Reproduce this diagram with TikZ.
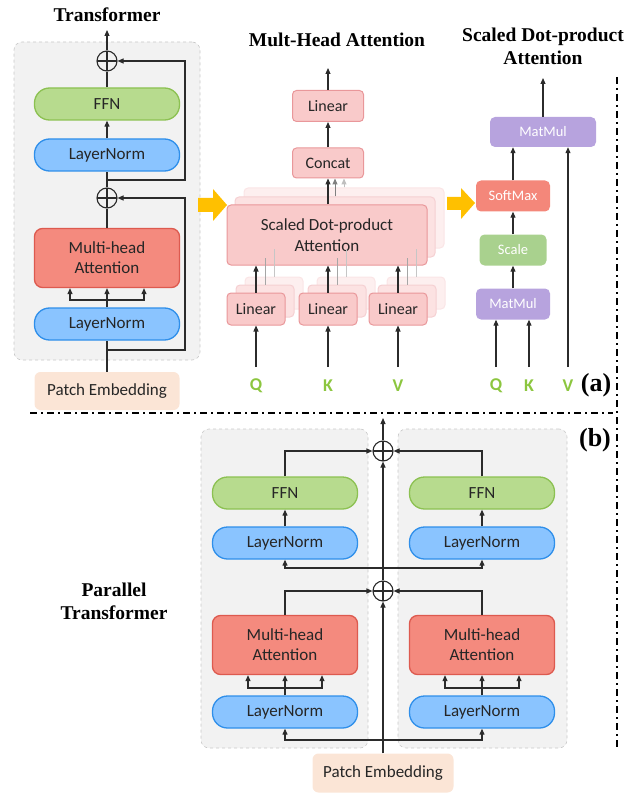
\documentclass[tikz,border=0pt]{standalone}
\usepackage{fontspec}
\setmainfont{Liberation Serif}
\newfontfamily\boxfont{Carlito}
\usetikzlibrary{arrows.meta,shapes.geometric,calc}
\definecolor{panelgray}{HTML}{F2F2F2}
\definecolor{panelborder}{HTML}{C8C8C8}
\definecolor{ffnfill}{HTML}{B7DB8E}
\definecolor{ffnborder}{HTML}{8CC152}
\definecolor{lnfill}{HTML}{8AC4FF}
\definecolor{lnborder}{HTML}{2F8FEA}
\definecolor{mhfill}{HTML}{F48A7E}
\definecolor{mhborder}{HTML}{DD5A4F}
\definecolor{patchc}{HTML}{FBE5D6}
\definecolor{pinkfill}{HTML}{F9CACA}
\definecolor{pinkborder}{HTML}{E9979A}
\definecolor{purp}{HTML}{B7A3DE}
\definecolor{smfill}{HTML}{F4877A}
\definecolor{scfill}{HTML}{A9D18E}
\definecolor{yel}{HTML}{FFC000}
\definecolor{qkvc}{HTML}{8CC63F}
\definecolor{linec}{HTML}{2B2B2B}
\definecolor{txt}{HTML}{262626}
\tikzset{
  boxtxt/.style={font=\boxfont\fontsize{17}{20}\selectfont, text=txt},
  pill/.style={boxtxt, rounded corners=15pt, minimum width=145pt, minimum height=32pt, line width=1.3pt, inner sep=0pt},
  ffn/.style={pill, fill=ffnfill, draw=ffnborder},
  lnorm/.style={pill, fill=lnfill, draw=lnborder},
  mhead/.style={pill, rounded corners=8pt, minimum height=59pt, fill=mhfill, draw=mhborder, align=center},
  patch/.style={boxtxt, fill=patchc, rounded corners=6pt, minimum width=145pt, minimum height=38pt, inner sep=0pt},
  panel/.style={fill=panelgray, draw=panelborder, dashed, line width=0.6pt, rounded corners=8pt, inner sep=0pt},
  pinkbox/.style={font=\boxfont\fontsize{16}{20}\selectfont, text=txt, fill=pinkfill, draw=pinkborder, line width=1pt, rounded corners=4pt, inner sep=0pt, align=center},
  bigpink/.style={pinkbox, font=\boxfont\fontsize{17}{21}\selectfont},
  shadowA/.style={fill=pinkfill!55, draw=pinkborder!45, line width=1pt, rounded corners=4pt, inner sep=0pt},
  shadowB/.style={fill=pinkfill!30, draw=pinkborder!25, line width=1pt, rounded corners=4pt, inner sep=0pt},
  sbox/.style={font=\boxfont\fontsize{14.5}{17}\selectfont, text=white, rounded corners=5pt, inner sep=0pt, minimum height=31pt},
  arr/.style={-{Triangle[length=6pt,width=5pt]}, draw=linec, line width=1.1pt},
  plainline/.style={draw=linec, line width=1.1pt},
  oplus/.style={circle, draw=linec, line width=1.1pt, minimum size=20pt, inner sep=0pt,
    path picture={\draw[linec, line width=1.1pt] (path picture bounding box.north) -- (path picture bounding box.south) (path picture bounding box.west) -- (path picture bounding box.east);}},
  ttl/.style={font=\fontsize{19.5}{23}\selectfont\bfseries, align=center},
  lbl/.style={font=\fontsize{26}{30}\selectfont\bfseries},
  qkv/.style={font=\boxfont\fontsize{18}{20}\selectfont\bfseries, text=qkvc},
  sep/.style={draw=black, line width=2pt, dash pattern=on 7pt off 4pt on 2pt off 4pt}
}
\begin{document}
\begin{tikzpicture}[x=1pt,y=-1pt]
\useasboundingbox (0,0) rectangle (642,794);

% ---------- (a) Transformer ----------
\node[panel, minimum width=186pt, minimum height=318pt] (pa) at (107,201) {};
\node[ttl] (tT) at (107,15) {Transformer};
\node[oplus] (op1) at (107,61) {};
\node[ffn] (ffn1) at (107,104) {FFN};
\node[lnorm] (ln1) at (107,155) {LayerNorm};
\node[oplus] (op2) at (107,198) {};
\node[mhead] (mh1) at (107,258) {Multi-head\\Attention};
\node[lnorm] (ln2) at (107,324) {LayerNorm};
\node[patch] (pe1) at (107,391) {Patch Embedding};
\coordinate (out1) at (107,30);
\coordinate (s1) at (107,180);
\coordinate (s2) at (107,350);
\coordinate (sp) at (107,300);
\draw[arr] (op1.north) -- (out1);
\draw[plainline] (ffn1.north) -- (op1.south);
\draw[arr] (ln1.north) -- (ffn1.south);
\draw[plainline] (op2.north) -- (ln1.south);
\draw[arr] (s1) -- ++(78,0) |- (op1.east);
\draw[plainline] (mh1.north) -- (op2.south);
\draw[arr] (s2) -- ++(78,0) |- (op2.east);
\draw[plainline] (ln2.north) -- (sp);
\draw[arr] (sp) -- (mh1.south);
\draw[arr] (sp) -| ($(mh1.south)+(-37,0)$);
\draw[arr] (sp) -| ($(mh1.south)+(37,0)$);
\draw[plainline] (pe1.north) -- (ln2.south);

% yellow arrows
\fill[yel] (198,198) -- (213,198) -- (213,189) -- (227,205) -- (213,221) -- (213,212) -- (198,212) -- cycle;
\fill[yel] (447,197) -- (461,197) -- (461,188) -- (475,203) -- (461,219) -- (461,210) -- (447,210) -- cycle;

% ---------- Multi-Head Attention ----------
\node[ttl] (tM) at (337,40) {Mult-Head Attention};
\node[shadowB, minimum width=200pt, minimum height=60pt] (sdS2) at (344,218) {};
\node[shadowA, minimum width=200pt, minimum height=60pt] (sdS1) at (335,227) {};
\node[bigpink, minimum width=200pt, minimum height=60pt] (sdpa) at (327,235) {Scaled Dot-product\\Attention};
\node[pinkbox, minimum width=71pt, minimum height=30pt] (conc) at (328,163) {Concat};
\node[pinkbox, minimum width=71pt, minimum height=31pt] (linO) at (328,106) {Linear};
\foreach \n/\x in {Q/256,K/328,V/398}{
  \node[shadowB, minimum width=58pt, minimum height=32pt] (lin\n s2) at (\x+18,293) {};
  \node[shadowA, minimum width=58pt, minimum height=32pt] (lin\n s1) at (\x+9,301) {};
}
\foreach \n/\x in {Q/256,K/328,V/398}{
  \draw[draw=gray!45, line width=1pt] (lin\n s2.north) -- (lin\n s2.north |- sdS2.south);
  \draw[draw=gray!70, line width=1pt] (lin\n s1.north) -- (lin\n s1.north |- sdS1.south);
  \node[pinkbox, minimum width=58pt, minimum height=32pt] (lin\n) at (\x,309) {Linear};
  \coordinate (in\n) at (\x,367);
  \draw[arr] (in\n) -- (lin\n.south);
  \draw[arr] (lin\n.north) -- (lin\n.north |- sdpa.south);
  \node[qkv] (lab\n) at (\x,386) {\n};
}
\draw[arr] (sdpa.north -| conc) -- (conc.south);
\draw[-{Triangle[length=6pt,width=5pt]}, draw=gray, fill=gray, line width=1pt] (sdS1.north) -- (sdS1.north |- conc.south);
\draw[-{Triangle[length=6pt,width=5pt]}, draw=gray!50, fill=gray!50, line width=1pt] (sdS2.north) -- (sdS2.north |- conc.south);
\draw[arr] (conc.north) -- (linO.south);
\coordinate (outM) at (328,68);
\draw[arr] (linO.north) -- (outM);

% ---------- Scaled Dot-product Attention ----------
\node[ttl] (tS) at (543,46) {Scaled Dot-product\\Attention};
\node[sbox, fill=purp, minimum width=106pt, minimum height=30pt] (mm2) at (543,132) {MatMul};
\node[sbox, fill=smfill, minimum width=74pt] (sm) at (513,196) {SoftMax};
\node[sbox, fill=scfill, minimum width=67pt] (sc) at (513,250) {Scale};
\node[sbox, fill=purp, minimum width=74pt] (mm1) at (513,304) {MatMul};
\coordinate (outS) at (543,78);
\draw[arr] (mm2.north) -- (outS);
\draw[arr] (sm.north) -- (sm.north |- mm2.south);
\draw[arr] (sc.north) -- (sm.south);
\draw[arr] (mm1.north) -- (sc.south);
\foreach \n/\x in {Q/496,K/529}{
  \coordinate (sin\n) at (\x,367);
  \draw[arr] (sin\n) -- (sin\n |- mm1.south);
  \node[qkv] (slab\n) at (\x,386) {\n};
}
\coordinate (sinV) at (568,367);
\draw[arr] (sinV) -- (sinV |- mm2.south);
\node[qkv] (slabV) at (568,386) {V};

\node[lbl] (la) at (596,385) {(a)};

% separators
\coordinate (h0) at (30,413);
\coordinate (h1) at (613,413);
\coordinate (v0) at (617,77);
\coordinate (v1) at (617,748);
\draw[sep] (h0) -- (h1);
\draw[sep] (v0) -- (v1);

% ---------- (b) Parallel Transformer ----------
\node[lbl] (lb) at (595,440) {(b)};
\node[ttl] (tP) at (114,601) {Parallel\\Transformer};
\node[panel, minimum width=167pt, minimum height=319pt] (pl) at (284.5,588.5) {};
\node[panel, minimum width=169pt, minimum height=319pt] (pr) at (482.5,588.5) {};
\node[oplus] (opT) at (383,451) {};
\node[oplus] (opM) at (383,591) {};
\foreach \s/\x in {L/285,R/482}{
  \node[ffn] (ffn\s) at (\x,493) {FFN};
  \node[lnorm] (ln\s1) at (\x,543) {LayerNorm};
  \node[mhead] (mh\s) at (\x,645) {Multi-head\\Attention};
  \node[lnorm] (ln\s2) at (\x,712) {LayerNorm};
  \coordinate (sp\s) at (\x,688);
  \draw[arr] (ln\s1.north) -- (ffn\s.south);
  \draw[plainline] (ln\s2.north) -- (sp\s);
  \draw[arr] (sp\s) -- (mh\s.south);
  \draw[arr] (sp\s) -| ($(mh\s.south)+(-37,0)$);
  \draw[arr] (sp\s) -| ($(mh\s.south)+(37,0)$);
}
\node[patch, minimum width=141pt, minimum height=39pt] (pe2) at (383,773) {Patch Embedding};
\coordinate (outP) at (383,418);
\coordinate (bb) at (383,740);
\coordinate (mb) at (383,568);
\draw[arr] (pe2.north) -- (opM.south);
\draw[arr] (opM.north) -- (opT.south);
\draw[arr] (opT.north) -- (outP);
\draw[arr] (bb) -| (lnL2.south);
\draw[arr] (bb) -| (lnR2.south);
\draw[arr] (mb) -| (lnL1.south);
\draw[arr] (mb) -| (lnR1.south);
\draw[arr] (mhL.north) |- (opM.west);
\draw[arr] (mhR.north) |- (opM.east);
\draw[arr] (ffnL.north) |- (opT.west);
\draw[arr] (ffnR.north) |- (opT.east);
\end{tikzpicture}
\end{document}
